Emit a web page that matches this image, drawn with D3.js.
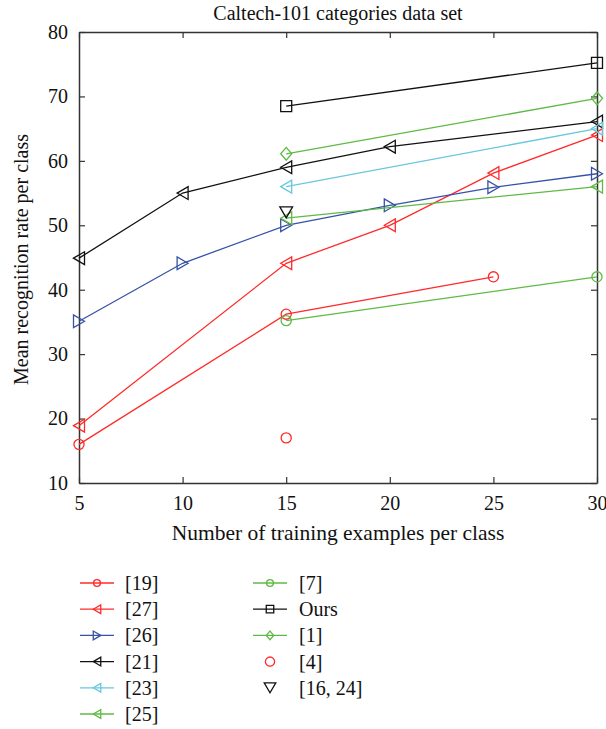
<!DOCTYPE html>
<html>
<head>
<meta charset="utf-8">
<script src="https://cdn.jsdelivr.net/npm/d3@7"></script>
<style>
  html, body { margin: 0; padding: 0; background: #fff; }
  svg { display: block; }
  text { font-family: "Liberation Serif", "Times New Roman", serif; fill: #111; }
</style>
</head>
<body>
<svg id="chart" width="606" height="729"></svg>
<script>
// ---------- data ----------
const xTicks = [5, 10, 15, 20, 25, 30];
const yTicks = [10, 20, 30, 40, 50, 60, 70, 80];

const x19 = [5, 15, 25];                 const y19 = [16, 36.2, 42];
const x27 = [5, 15, 20, 25, 30];         const y27 = [18.9, 44.1, 50, 58.1, 64];
const x26 = [5, 10, 15, 20, 25, 30];     const y26 = [35.1, 44.1, 50, 53.1, 55.9, 58];
const x21 = [5, 10, 15, 20, 30];         const y21 = [44.9, 55, 59, 62.2, 66.1];
const x23 = [15, 30];                    const y23 = [56, 65];
const x25 = [15, 30];                    const y25 = [51.1, 56];
const x7  = [15, 30];                    const y7  = [35.2, 42];
const xOurs = [15, 30];                  const yOurs = [68.5, 75.2];
const x1  = [15, 30];                    const y1  = [61.1, 69.7];
const x4  = [15];                        const y4  = [17];
const x1624 = [15];                      const y1624 = [52];

const names   = ["[19]", "[27]", "[26]", "[21]", "[23]", "[25]", "[7]", "Ours", "[1]", "[4]", "[16, 24]"];
const colors  = ["#ff2a2a", "#ff2a2a", "#3552a8", "#111111", "#66c8dc", "#5fba45", "#5fba45", "#111111", "#5fba45", "#ff2a2a", "#111111"];
const markers = ["circle", "triLeft", "triRight", "triLeft", "triLeft", "triLeft", "circle", "square", "diamond", "circle", "triDown"];
const hasLine = [true, true, true, true, true, true, true, true, true, false, false];
const xs = [x19, x27, x26, x21, x23, x25, x7, xOurs, x1, x4, x1624];
const ys = [y19, y27, y26, y21, y23, y25, y7, yOurs, y1, y4, y1624];

const series = names.map((n, i) => ({
  name: n, color: colors[i], marker: markers[i], line: hasLine[i],
  points: xs[i].map((xv, j) => ({ x: xv, y: ys[i][j] }))
}));

// ---------- layout ----------
const svg = d3.select("#chart");
const pLeft = 79, pRight = 597, pTop = 32, pBottom = 483;
const xScale = d3.scaleLinear().domain([5, 30]).range([pLeft, pRight]);
const yScale = d3.scaleLinear().domain([10, 80]).range([pBottom, pTop]);
const FS = 20;

function markerPath(type, s) {
  const p = d3.path();
  const h = s / 2;
  if (type === "circle") {
    p.arc(0, 0, s * 0.46, 0, 2 * Math.PI);
  } else if (type === "square") {
    p.rect(-h, -h, s, s);
  } else if (type === "diamond") {
    const w = s * 0.5, hh = s * 0.58;
    p.moveTo(0, -hh); p.lineTo(w, 0); p.lineTo(0, hh); p.lineTo(-w, 0); p.closePath();
  } else if (type === "triLeft") {
    const hh = s * 0.58;
    p.moveTo(-h, 0); p.lineTo(h, -hh); p.lineTo(h, hh); p.closePath();
  } else if (type === "triRight") {
    const hh = s * 0.58;
    p.moveTo(h, 0); p.lineTo(-h, -hh); p.lineTo(-h, hh); p.closePath();
  } else if (type === "triDown") {
    const w = s * 0.58;
    p.moveTo(-w, -h); p.lineTo(w, -h); p.lineTo(0, h); p.closePath();
  }
  return p.toString();
}

// ---------- axes box ----------
const axisColor = "#333";
const gAxes = svg.append("g");

const xAxisB = d3.axisBottom(xScale).tickValues(xTicks).tickSizeInner(-6).tickSizeOuter(0).tickPadding(13);
const xAxisT = d3.axisTop(xScale).tickValues(xTicks).tickSizeInner(-6).tickSizeOuter(0).tickFormat("");
const yAxisL = d3.axisLeft(yScale).tickValues(yTicks).tickSizeInner(-6).tickSizeOuter(0).tickPadding(11);
const yAxisR = d3.axisRight(yScale).tickValues(yTicks).tickSizeInner(-6).tickSizeOuter(0).tickFormat("");

function styleAxis(g) {
  g.selectAll("path.domain").attr("stroke", axisColor).attr("stroke-width", 1.5);
  g.selectAll(".tick line").attr("stroke", axisColor).attr("stroke-width", 1.2);
  g.selectAll(".tick text").attr("font-family", "Liberation Serif, serif").attr("font-size", FS).attr("fill", "#111");
}
gAxes.append("g").attr("transform", `translate(0,${pBottom})`).call(xAxisB).call(styleAxis);
gAxes.append("g").attr("transform", `translate(0,${pTop})`).call(xAxisT).call(styleAxis);
gAxes.append("g").attr("transform", `translate(${pLeft},0)`).call(yAxisL).call(styleAxis);
gAxes.append("g").attr("transform", `translate(${pRight},0)`).call(yAxisR).call(styleAxis);

// ---------- series ----------
const lineGen = d3.line().x(d => xScale(d.x)).y(d => yScale(d.y));
const gS = svg.append("g");
series.forEach(s => {
  if (s.line) {
    gS.append("path").attr("d", lineGen(s.points)).attr("fill", "none")
      .attr("stroke", s.color).attr("stroke-width", 1.3);
  }
  gS.selectAll(null).data(s.points).enter().append("path")
    .attr("transform", d => `translate(${xScale(d.x)},${yScale(d.y)})`)
    .attr("d", markerPath(s.marker, 11))
    .attr("fill", "none").attr("stroke", s.color).attr("stroke-width", 1.3);
});

// ---------- texts ----------
svg.append("text").attr("x", (pLeft + pRight) / 2).attr("y", 20).attr("text-anchor", "middle")
  .attr("font-size", FS).text("Caltech-101 categories data set");
svg.append("text").attr("x", (pLeft + pRight) / 2).attr("y", 540).attr("text-anchor", "middle")
  .attr("font-size", 21.5).text("Number of training examples per class");
svg.append("text").attr("transform", `translate(28,${(pTop + pBottom) / 2 + 2}) rotate(-90)`)
  .attr("text-anchor", "middle").attr("font-size", FS).text("Mean recognition rate per class");

// ---------- legend ----------
const gL = svg.append("g");
series.forEach((s, i) => {
  const col = i < 6 ? 0 : 1;
  const row = i < 6 ? i : i - 6;
  const lx = col === 0 ? 80 : 253;
  const tx = col === 0 ? 125 : 299;
  const ly = 583 + row * 26.2;
  if (s.line) {
    gL.append("line").attr("x1", lx).attr("x2", lx + 34).attr("y1", ly).attr("y2", ly)
      .attr("stroke", s.color).attr("stroke-width", 1.3);
  }
  const ms = s.line ? 7.5 : 10;
  gL.append("path").attr("transform", `translate(${lx + 17},${ly})`)
    .attr("d", markerPath(s.marker, ms)).attr("fill", "none")
    .attr("stroke", s.color).attr("stroke-width", 1.3);
  gL.append("text").attr("x", tx).attr("y", ly + 7).attr("font-size", FS).text(s.name);
});
</script>
</body>
</html>
